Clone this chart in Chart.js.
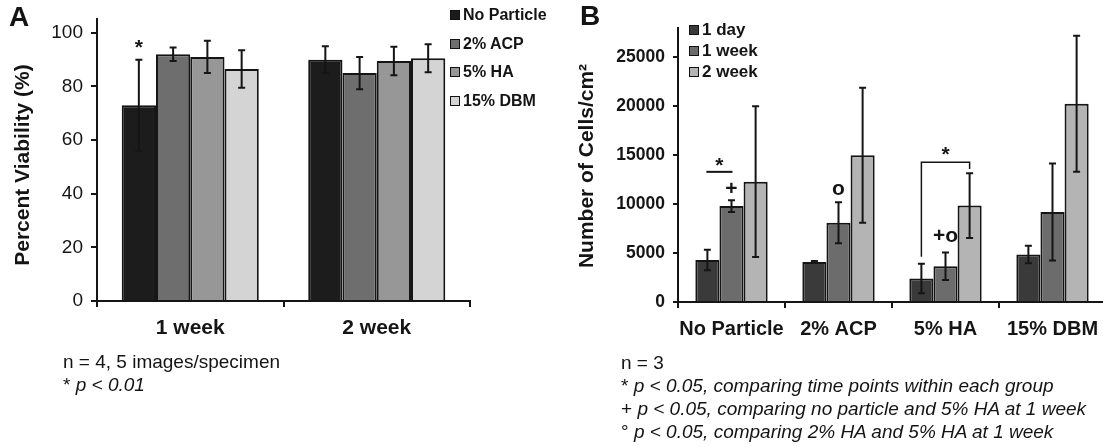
<!DOCTYPE html>
<html><head><meta charset="utf-8">
<script src="https://cdn.jsdelivr.net/npm/chart.js@4.4.1/dist/chart.umd.min.js"></script>
<style>
html,body{margin:0;padding:0;background:#fff;}
body{width:1103px;height:447px;overflow:hidden;position:relative;font-family:"Liberation Sans",Arial,sans-serif;color:#141414;}
.abs{position:absolute;white-space:nowrap;}
.ytitle{position:absolute;white-space:nowrap;font-weight:bold;font-size:21px;transform:translate(-50%,-50%) rotate(-90deg);}
.leg{position:absolute;white-space:nowrap;font-weight:bold;display:flex;align-items:center;}
.leg i{display:inline-block;width:8px;height:8px;border:1.5px solid #111;margin-right:3px;}
.note{position:absolute;white-space:nowrap;font-size:19px;line-height:23px;}
.note em{font-style:italic;}
</style></head><body>

<div class="abs" style="left:0;top:0;width:475px;height:447px;"><canvas id="cA" width="475" height="447"></canvas></div>
<div class="abs" style="left:580px;top:0;width:528px;height:447px;"><canvas id="cB" width="528" height="447"></canvas></div>

<div class="abs" style="left:9px;top:1px;font-size:28px;font-weight:bold;">A</div>
<div class="abs" style="left:580px;top:0px;font-size:28px;font-weight:bold;">B</div>

<div class="ytitle" style="left:22px;top:165px;">Percent Viability (%)</div>
<div class="ytitle" style="left:586px;top:166px;">Number of Cells/cm²</div>

<div id="legA"></div>
<div id="legB"></div>

<div class="note" style="left:63px;top:350px;">n = 4, 5 images/specimen<br>* <em>p &lt; 0.01</em></div>
<div class="note" style="left:621px;top:351px;">n = 3<br>* <em>p &lt; 0.05, comparing time points within each group</em><br>+ <em>p &lt; 0.05, comparing no particle and 5% HA at 1 week</em><br>° <em>p &lt; 0.05, comparing 2% HA and 5% HA at 1 week</em></div>

<script>
// ---------- Panel A data ----------
const categoriesA = ['1 week', '2 week'];
const seriesNamesA = ['No Particle', '2% ACP', '5% HA', '15% DBM'];
const noParticleA = [73, 90];
const acp2A = [92, 85];
const ha5A = [91, 89.5];
const dbm15A = [86.5, 90.5];
const errNoParticleA = [17, 5];
const errAcp2A = [2.5, 6];
const errHa5A = [6, 5.3];
const errDbm15A = [7, 5.2];
const ticksA = [0, 20, 40, 60, 80, 100];
const colorsA = ['#1c1c1c', '#6e6e6e', '#979797', '#d4d4d4'];

// ---------- Panel B data ----------
const categoriesB = ['No Particle', '2% ACP', '5% HA', '15% DBM'];
const seriesNamesB = ['1 day', '1 week', '2 week'];
const day1B = [4300, 4100, 2400, 4850];
const week1B = [9800, 8100, 3650, 9200];
const week2B = [12300, 15000, 9850, 20250];
const errDay1B = [1050, 100, 1500, 900];
const errWeek1B = [600, 2100, 1400, 4950];
const errWeek2B = [7700, 6900, 3300, 6950];
const ticksB = [0, 5000, 10000, 15000, 20000, 25000];
const colorsB = ['#3a3a3a', '#6c6c6c', '#b4b4b4'];

// significance marks (category index, series index, value in data units)
const starA = [{ text: '*', cat: 0, series: 0, value: 95.8 }];
const marksB = [
  { text: '*', cat: 0, series: 0.5, value: 14250 },
  { text: '+', cat: 0, series: 1, value: 11550 },
  { text: 'o', cat: 1, series: 1, value: 11550 },
  { text: '*', cat: 2, series: 1, value: 15450 },
  { text: '+o', cat: 2, series: 1, value: 6700 }
];
// lines: [cat, fromSeries, toSeries, value]
const barLineB = [0, 0, 1, 13300];
const bracketB = { cat: 2, from: 0, to: 2, top: 14270, leftEnd: 4630, rightEnd: 13590 };

const FONT = '"Liberation Sans", Arial, sans-serif';

function legend(id, names, colors, left, top0, step, size) {
  const el = document.getElementById(id);
  names.forEach((n, i) => {
    const d = document.createElement('div');
    d.className = 'leg';
    d.style.left = left + 'px';
    d.style.top = (top0 + i * step) + 'px';
    d.style.fontSize = size + 'px';
    d.style.height = '20px';
    d.style.transform = 'translateY(-50%)';
    d.innerHTML = '<i style="background:' + colors[i] + '"></i>' + n;
    el.appendChild(d);
  });
}
legend('legA', seriesNamesA, colorsA, 450, 15, 28.7, 16);
legend('legB', seriesNamesB, colorsB, 689, 30, 21, 17);

const errorBars = {
  id: 'errorBars',
  afterDatasetsDraw(chart, args, opts) {
    const ctx = chart.ctx, y = chart.scales.y;
    chart.data.datasets.forEach((ds, di) => {
      const meta = chart.getDatasetMeta(di);
      meta.data.forEach((bar, i) => {
        const v = ds.data[i], e = ds.errorBars[i];
        const yt = y.getPixelForValue(v + e), yb = y.getPixelForValue(v - e);
        const c = opts.cap;
        ctx.save();
        ctx.strokeStyle = '#151515';
        ctx.lineWidth = opts.width;
        ctx.beginPath();
        ctx.moveTo(bar.x, yt); ctx.lineTo(bar.x, yb);
        ctx.moveTo(bar.x - c, yt); ctx.lineTo(bar.x + c, yt);
        ctx.moveTo(bar.x - c, yb); ctx.lineTo(bar.x + c, yb);
        ctx.stroke();
        ctx.restore();
      });
    });
  }
};

function barX(chart, series, cat) {
  const lo = Math.floor(series), hi = Math.ceil(series);
  const a = chart.getDatasetMeta(lo).data[cat].x, b = chart.getDatasetMeta(hi).data[cat].x;
  return a + (b - a) * (series - lo);
}

function makeMarks(marks, line, bracket) {
  return {
    id: 'marks',
    afterDatasetsDraw(chart) {
      const ctx = chart.ctx, y = chart.scales.y;
      ctx.save();
      ctx.fillStyle = '#151515';
      ctx.strokeStyle = '#151515';
      ctx.lineWidth = 2;
      ctx.font = 'bold 21px ' + FONT;
      ctx.textAlign = 'center';
      ctx.textBaseline = 'middle';
      marks.forEach(m => {
        let yy = y.getPixelForValue(m.value);
        if (m.text === '*') yy += 4;
        ctx.fillText(m.text, barX(chart, m.series, m.cat), yy);
      });
      if (line) {
        const yy = y.getPixelForValue(line[3]);
        ctx.beginPath();
        ctx.moveTo(barX(chart, line[1], line[0]) - 1, yy);
        ctx.lineTo(barX(chart, line[2], line[0]) + 1, yy);
        ctx.stroke();
      }
      if (bracket) {
        const x1 = barX(chart, bracket.from, bracket.cat), x2 = barX(chart, bracket.to, bracket.cat);
        ctx.lineWidth = 1.5;
        ctx.beginPath();
        ctx.moveTo(x1, y.getPixelForValue(bracket.leftEnd));
        ctx.lineTo(x1, y.getPixelForValue(bracket.top));
        ctx.lineTo(x2, y.getPixelForValue(bracket.top));
        ctx.lineTo(x2, y.getPixelForValue(bracket.rightEnd));
        ctx.stroke();
      }
      ctx.restore();
    }
  };
}

function ds(label, data, err, color) {
  return { label, data, errorBars: err, backgroundColor: color, borderColor: '#151515', borderWidth: 2, borderSkipped: 'start' };
}

function axisOpts(yMax, step, tickList, yWidth, yFont, xFont, yTickLen) {
  return {
    x: {
      grid: { offset: true, drawOnChartArea: false, drawTicks: true, tickLength: 6, color: '#151515', lineWidth: 2 },
      border: { color: '#151515', width: 2 },
      ticks: { color: '#151515', font: xFont, padding: 9, maxRotation: 0, minRotation: 0, autoSkip: false },
      afterFit: s => { s.height = 40; }
    },
    y: {
      min: 0, max: yMax,
      grid: { drawOnChartArea: false, drawTicks: true, tickLength: yTickLen, color: '#151515', lineWidth: 2 },
      border: { color: '#151515', width: 2 },
      ticks: { stepSize: step, color: '#151515', font: yFont, padding: 8, callback: v => String(v) },
      afterBuildTicks: s => { s.ticks = tickList.map(v => ({ value: v })); },
      afterFit: s => { s.width = yWidth; }
    }
  };
}

new Chart(document.getElementById('cA'), {
  type: 'bar',
  data: {
    labels: categoriesA,
    datasets: [
      ds(seriesNamesA[0], noParticleA, errNoParticleA, colorsA[0]),
      ds(seriesNamesA[1], acp2A, errAcp2A, colorsA[1]),
      ds(seriesNamesA[2], ha5A, errHa5A, colorsA[2]),
      ds(seriesNamesA[3], dbm15A, errDbm15A, colorsA[3])
    ]
  },
  options: {
    responsive: false, animation: false, devicePixelRatio: 1,
    categoryPercentage: 0.735, barPercentage: 1,
    layout: { padding: { left: 0, top: 12, right: 5, bottom: 106 } },
    plugins: { legend: { display: false }, tooltip: { enabled: false }, errorBars: { cap: 3.5, width: 2 } },
    scales: axisOpts(105, 20, ticksA, 97, { family: FONT, size: 19 }, { family: FONT, size: 21, weight: 'bold' }, 6)
  },
  plugins: [errorBars, makeMarks(starA, null, null)]
});

new Chart(document.getElementById('cB'), {
  type: 'bar',
  data: {
    labels: categoriesB,
    datasets: [
      ds(seriesNamesB[0], day1B, errDay1B, colorsB[0]),
      ds(seriesNamesB[1], week1B, errWeek1B, colorsB[1]),
      ds(seriesNamesB[2], week2B, errWeek2B, colorsB[2])
    ]
  },
  options: {
    responsive: false, animation: false, devicePixelRatio: 1,
    categoryPercentage: 0.676, barPercentage: 1,
    layout: { padding: { left: 0, top: 28, right: 2, bottom: 105 } },
    plugins: { legend: { display: false }, tooltip: { enabled: false }, errorBars: { cap: 3.5, width: 2 } },
    scales: axisOpts(28000, 5000, ticksB, 98, { family: FONT, size: 17.5, weight: 'bold' }, { family: FONT, size: 20, weight: 'bold' }, 5)
  },
  plugins: [errorBars, makeMarks(marksB, barLineB, bracketB)]
});
</script>
</body></html>
